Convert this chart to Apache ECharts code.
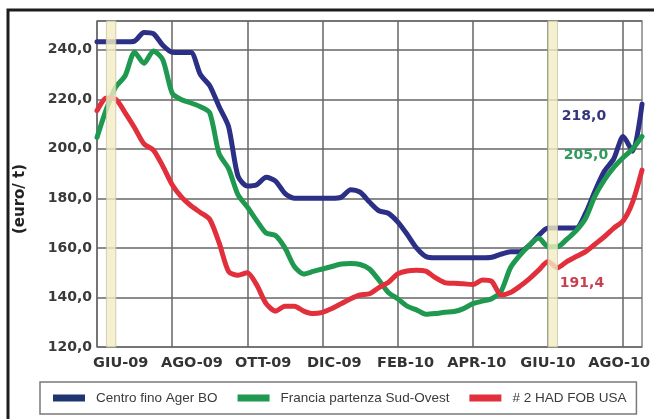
<!DOCTYPE html>
<html><head><meta charset="utf-8">
<script src="https://cdn.jsdelivr.net/npm/echarts@6/dist/echarts.min.js"></script>
<style>html,body{margin:0;padding:0;background:#fff}#c{width:654px;height:419px}</style>
</head><body><div id="c"></div>
<script>
// Month names (each month split into 4 quarter-month steps)
const monthNames = ['GIU-09','LUG-09','AGO-09','SET-09','OTT-09','NOV-09','DIC-09','GEN-10','FEB-10','MAR-10','APR-10','MAG-10','GIU-10','LUG-10','AGO-10'];
// Tick labels on the time axis
const tickLabels = ['GIU-09','AGO-09','OTT-09','DIC-09','FEB-10','APR-10','GIU-10','AGO-10'];
const seriesNames = ['Centro fino Ager BO','Francia partenza Sud-Ovest','# 2 HAD FOB USA'];
// Values (euro/t), one per quarter-month
const centroFino = [243.2,243.2,243.2,243.2,243.5,247,246.5,241.8,239,238.9,238.9,230,225.5,217,209,189,185,185.5,188.5,187,182,180,180,180,180,180,180.5,183.5,182.5,178.5,175,174,170.5,165.5,160,156.5,156,156,156,156,156,156,156.2,157.5,158.5,158.5,161,165,168,168,168,168,174,183,191,196,205,199,218];
const francia = [204.6,216,225,229.5,239,234.5,239.5,236,222.5,219.8,218.5,217,214.5,198,192,181.5,176.5,171,166,165,160,152.5,149.5,150.5,151.5,152.5,153.5,153.7,153.3,151.5,147,142,139.5,136.5,135,133.2,133.5,134,134.3,135.5,137.5,138.5,139.5,142.5,152,157,161,164,160.5,160.5,163.5,167,172,181,187.5,192.5,196.5,200,205];
const had = [215.4,220.5,220,214.5,208.5,202,199.5,193,185.5,180.5,177,174.3,171.5,162,150.5,149,150,145,137.5,134.5,136.5,136.5,134.5,133.5,134,135.5,137.5,139.5,141,141.5,144,146,149.5,150.7,151,150.6,148,146,145.7,145.5,145.2,147,146.5,141,142,144.5,147.5,151,154.5,152,154.5,156.5,158.5,161.5,164.5,168,171,178.5,191.4];
// Highlighted periods (in quarter-month index units)
const highlightBands = [[1.2,1.9],[47.95,48.65]];

const categories = [];
monthNames.forEach(m => { for (let q = 1; q <= 4; q++) categories.push(m + ' ' + q); });
categories.length = centroFino.length;

const colors = ['#2b2f85','#1f9950','#e1303c'];
const legendColors = ['#1f3570','#1f9950','#e1303c'];
const labelColors = ['#34377f','#2f9a5c','#c8404f'];
const endOffsets = [[-58,12],[-56,19],[-60,113]];
const fmt = v => Number(v).toFixed(1).replace('.', ',');
const font = 'DejaVu Sans';

const chart = echarts.init(document.getElementById('c'));
const mkSeries = (name, data, i) => ({
  name, type: 'line', data, xAxisIndex: 0, yAxisIndex: 0,
  showSymbol: false, symbol: 'none', smooth: 0.25, z: 2 + i,
  lineStyle: { width: 5, color: colors[i], join: 'round', cap: 'round' },
  itemStyle: { color: legendColors[i] },
  endLabel: {
    show: true, formatter: p => fmt(p.value), distance: 0,
    offset: endOffsets[i], align: 'center', verticalAlign: 'middle',
    color: labelColors[i], fontFamily: font, fontWeight: 'bold', fontSize: 14
  }
});

chart.setOption({
  animation: false,
  backgroundColor: '#fff',
  color: colors,
  graphic: [{
    type: 'rect', z: -10, silent: true,
    shape: { x: 8, y: 10, width: 700, height: 500 },
    style: { fill: 'transparent', stroke: '#1c1c1c', lineWidth: 3 }
  }],
  grid: { left: 97, right: 12, top: 21, bottom: 72, show: true, borderColor: '#858585', borderWidth: 1.5, backgroundColor: '#fff' },
  legend: {
    left: 40, top: 382, orient: 'horizontal', icon: 'rect',
    itemWidth: 32, itemHeight: 7, itemGap: 20,
    padding: [9, 10, 9, 13], borderColor: '#7a7a7a', borderWidth: 1.5, backgroundColor: '#fff',
    textStyle: { fontFamily: 'Liberation Sans Narrow, Liberation Sans', fontSize: 13.5, color: '#3a3a3a', padding: [0, 0, 0, 6] },
    data: seriesNames
  },
  xAxis: [{
    type: 'category', data: categories, boundaryGap: false, gridIndex: 0,
    axisLine: { show: false }, axisTick: { show: false }, axisLabel: { show: false },
    splitLine: { show: true, interval: 7, lineStyle: { color: '#666', width: 1.5 } }
  }, {
    type: 'value', gridIndex: 0, position: 'bottom', min: 0, max: 22.96, interval: 1,
    axisLine: { show: false }, axisTick: { show: false }, splitLine: { show: false },
    axisLabel: {
      margin: 9, fontFamily: font, fontWeight: 'bold', fontSize: 14.5, color: '#333',
      showMaxLabel: false,
      formatter: v => { const r = Math.round(v); return r % 3 === 1 ? (tickLabels[(r - 1) / 3] || '') : ''; }
    }
  }],
  yAxis: {
    type: 'value', min: 120, max: 251.6, interval: 20,
    name: '(euro/ t)', nameLocation: 'middle', nameGap: 69, nameRotate: 90,
    nameTextStyle: { fontFamily: font, fontWeight: 'bold', fontSize: 15, color: '#222', padding: [0, 30, 0, 0] },
    axisLine: { show: false }, axisTick: { show: false },
    axisLabel: { margin: 5, fontFamily: font, fontWeight: 'bold', fontSize: 14, color: '#3a3a3a', showMaxLabel: false,
      formatter: v => (v > 245 ? '' : fmt(v)) },
    splitLine: { lineStyle: { color: '#666', width: 1.5 } }
  },
  series: [
    mkSeries(seriesNames[0], centroFino, 0),
    mkSeries(seriesNames[1], francia, 1),
    mkSeries(seriesNames[2], had, 2),
    {
      name: 'bands', type: 'line', data: [], xAxisIndex: 0, yAxisIndex: 0, z: 10,
      markArea: {
        silent: true, z: 10,
        itemStyle: { color: 'rgba(242,238,196,0.8)', borderColor: 'rgba(200,196,160,0.8)', borderWidth: 1 },
        data: highlightBands.map(b => [{ xAxis: b[0] }, { xAxis: b[1] }])
      }
    }
  ]
});
</script></body></html>
